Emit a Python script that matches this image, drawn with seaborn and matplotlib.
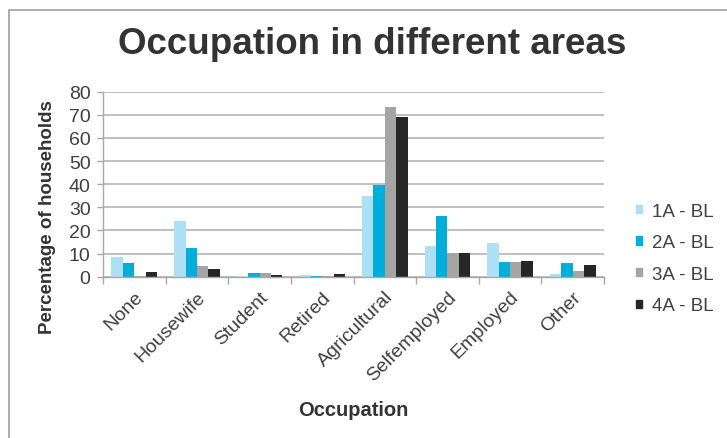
import matplotlib
matplotlib.use("Agg")
import matplotlib.pyplot as plt
import matplotlib.patches as mpatches
import seaborn as sns
import pandas as pd

# Survey data: share of households per occupation, by area
occupations = ["None", "Housewife", "Student", "Retired", "Agricultural",
               "Selfemployed", "Employed", "Other"]
areas = ["1A - BL", "2A - BL", "3A - BL", "4A - BL"]
values_1a = [8.6, 24.2, 0.3, 0.6, 34.9, 13.1, 14.7, 1.3]
values_2a = [5.9, 12.3, 1.7, 0.5, 39.8, 26.1, 6.4, 5.9]
values_3a = [0.3, 4.6, 1.7, 0.1, 73.4, 10.1, 6.4, 2.6]
values_4a = [2.2, 3.5, 0.9, 1.3, 68.9, 10.1, 6.8, 5.0]
colors = ["#ADDFF5", "#00AEDB", "#A5A5A5", "#262626"]

rows = []
for area, vals in zip(areas, [values_1a, values_2a, values_3a, values_4a]):
    for occ, v in zip(occupations, vals):
        rows.append({"Occupation": occ, "Percentage": v, "Area": area})
df = pd.DataFrame(rows)

sns.set_theme(style="white")
plt.rcParams["font.family"] = ["Liberation Sans", "DejaVu Sans"]

fig = plt.figure(figsize=(7.27, 4.39), dpi=100)
ax = fig.add_axes([103 / 727, 1 - 277.7 / 439, 501 / 727, 185 / 439])

sns.barplot(data=df, x="Occupation", y="Percentage", hue="Area",
            order=occupations, hue_order=areas, palette=colors,
            saturation=1, width=0.73, errorbar=None, ax=ax, linewidth=0)

ax.set_ylim(0, 80)
ax.set_yticks(range(0, 81, 10))
ax.set_xlim(-0.5, len(occupations) - 0.5)
ax.yaxis.grid(True, color="#B4B4B4", linewidth=1.2)
ax.set_axisbelow(True)

for side in ["top", "right"]:
    ax.spines[side].set_visible(False)
for side in ["left", "bottom"]:
    ax.spines[side].set_color("#A8A8A8")
    ax.spines[side].set_linewidth(1.0)

# Category boundary ticks on the x axis
ax.set_xticks([i - 0.5 for i in range(len(occupations) + 1)], minor=True)
ax.tick_params(axis="x", which="minor", bottom=True, length=5, color="#A8A8A8", width=1)
ax.tick_params(axis="x", which="major", bottom=False, pad=2)
ax.tick_params(axis="y", left=True, length=4, color="#A8A8A8", width=1, pad=5)

ax.set_xticks(range(len(occupations)))
ax.set_xticklabels(occupations, rotation=45, ha="right", va="top",
                   rotation_mode="anchor", fontsize=14, color="#404040")
for lbl in ax.get_yticklabels():
    lbl.set_fontsize(14)
    lbl.set_color("#404040")

ax.set_xlabel("")
ax.set_ylabel("")
fig.text(353 / 727, 1 - 411 / 439, "Occupation", ha="center", va="center",
         fontsize=14.5, fontweight="bold", color="#333333")
fig.text(47 / 727, 1 - 217 / 439, "Percentage of households", ha="center",
         va="center", rotation=90, fontsize=13.5, fontweight="bold", color="#333333")
fig.text(372 / 727, 1 - 45 / 439, "Occupation in different areas", ha="center",
         va="center", fontsize=26.5, fontweight="bold", color="#333333")

handles = [mpatches.Patch(color=c, label=a) for c, a in zip(colors, areas)]
ax.get_legend().remove()
fig.legend(handles=handles, loc="center left",
           bbox_to_anchor=(636 / 727, 1 - 259.5 / 439), frameon=False,
           borderpad=0, borderaxespad=0,
           fontsize=13.5, handlelength=0.3, handleheight=0.3,
           handletextpad=0.55, labelspacing=0.78, labelcolor="#404040")

# Chart frame
fig.patches.append(mpatches.Rectangle((9 / 727, -0.1), 1.2, 1.1 - 11 / 439,
                                      transform=fig.transFigure, fill=False,
                                      edgecolor="#A0A0A0", linewidth=1.2))

fig.savefig("out.png", dpi=100)
